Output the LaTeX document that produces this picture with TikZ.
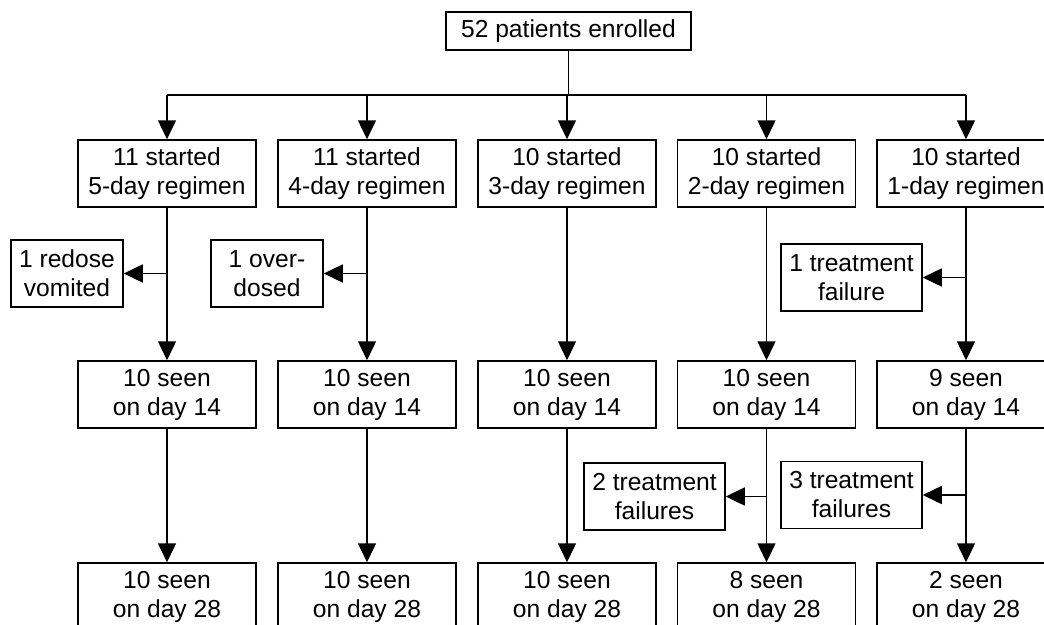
\documentclass[tikz,border=0pt]{standalone}
\usepackage{fontspec}
\setmainfont{Liberation Sans}
\usetikzlibrary{arrows.meta}
\begin{document}
\begin{tikzpicture}[x=1pt,y=-1pt,
  every node/.style={font=\fontsize{24.6}{29}\selectfont},
  box/.style={draw,line width=1.5pt,align=center,inner sep=0pt,minimum height=67pt},
  mainbox/.style={box,minimum width=178pt},
  sidebox/.style={box,minimum width=112pt},
  tfbox/.style={box,minimum width=141pt},
  conn/.style={line width=1.5pt},
  arr/.style={conn,-{Triangle[length=19pt,width=18pt]}}
]
\useasboundingbox (0,0) rectangle (1044,624);
\node[box,minimum width=245pt,minimum height=38pt] (top) at (568.5,31) {52 patients enrolled};
% row 1
\node[mainbox] (a1) at (167,173.5) {11 started\\5-day regimen};
\node[mainbox] (a2) at (367,173.5) {11 started\\4-day regimen};
\node[mainbox] (a3) at (567,173.5) {10 started\\3-day regimen};
\node[mainbox] (a4) at (766.5,173.5) {10 started\\2-day regimen};
\node[mainbox] (a5) at (966,173.5) {10 started\\1-day regimen};
% side boxes
\node[sidebox] (s1) at (67,273.5) {1 redose\\vomited};
\node[sidebox] (s2) at (267,273.5) {1 over-\\dosed};
\node[tfbox] (s5) at (851.5,277.5) {1 treatment\\failure};
% row 2
\node[mainbox] (b1) at (167,394.5) {10 seen\\on day 14};
\node[mainbox] (b2) at (367,394.5) {10 seen\\on day 14};
\node[mainbox] (b3) at (567,394.5) {10 seen\\on day 14};
\node[mainbox] (b4) at (766.5,394.5) {10 seen\\on day 14};
\node[mainbox] (b5) at (966,394.5) {9 seen\\on day 14};
% side boxes 2
\node[tfbox] (t4) at (654.5,496.5) {2 treatment\\failures};
\node[tfbox] (t5) at (851.5,495) {3 treatment\\failures};
% row 3
\node[mainbox] (c1) at (167,596.5) {10 seen\\on day 28};
\node[mainbox] (c2) at (367,596.5) {10 seen\\on day 28};
\node[mainbox] (c3) at (567,596.5) {10 seen\\on day 28};
\node[mainbox] (c4) at (766.5,596.5) {8 seen\\on day 28};
\node[mainbox] (c5) at (966,596.5) {2 seen\\on day 28};
% junctions
\coordinate (hj) at (top.south |- 0,95);
\coordinate (j1) at (a1.north |- 0,95);
\coordinate (j2) at (a2.north |- 0,95);
\coordinate (j3) at (a3.north |- 0,95);
\coordinate (j4) at (a4.north |- 0,95);
\coordinate (j5) at (a5.north |- 0,95);
\coordinate (k1) at (a1.south |- s1.east);
\coordinate (k2) at (a2.south |- s2.east);
\coordinate (k5) at (a5.south |- s5.east);
\coordinate (m4) at (b4.south |- t4.east);
\coordinate (m5) at (b5.south |- t5.east);
% connectors
\draw[conn] (top.south) -- (hj);
\draw[conn] (j1) -- (j5);
\foreach \i in {1,...,5} \draw[arr] (j\i) -- (a\i.north);
\foreach \i in {1,...,5} \draw[arr] (a\i.south) -- (b\i.north);
\foreach \i in {1,...,5} \draw[arr] (b\i.south) -- (c\i.north);
\draw[arr] (k1) -- (s1.east);
\draw[arr] (k2) -- (s2.east);
\draw[arr] (k5) -- (s5.east);
\draw[arr] (m4) -- (t4.east);
\draw[arr] (m5) -- (t5.east);
\end{tikzpicture}
\end{document}
